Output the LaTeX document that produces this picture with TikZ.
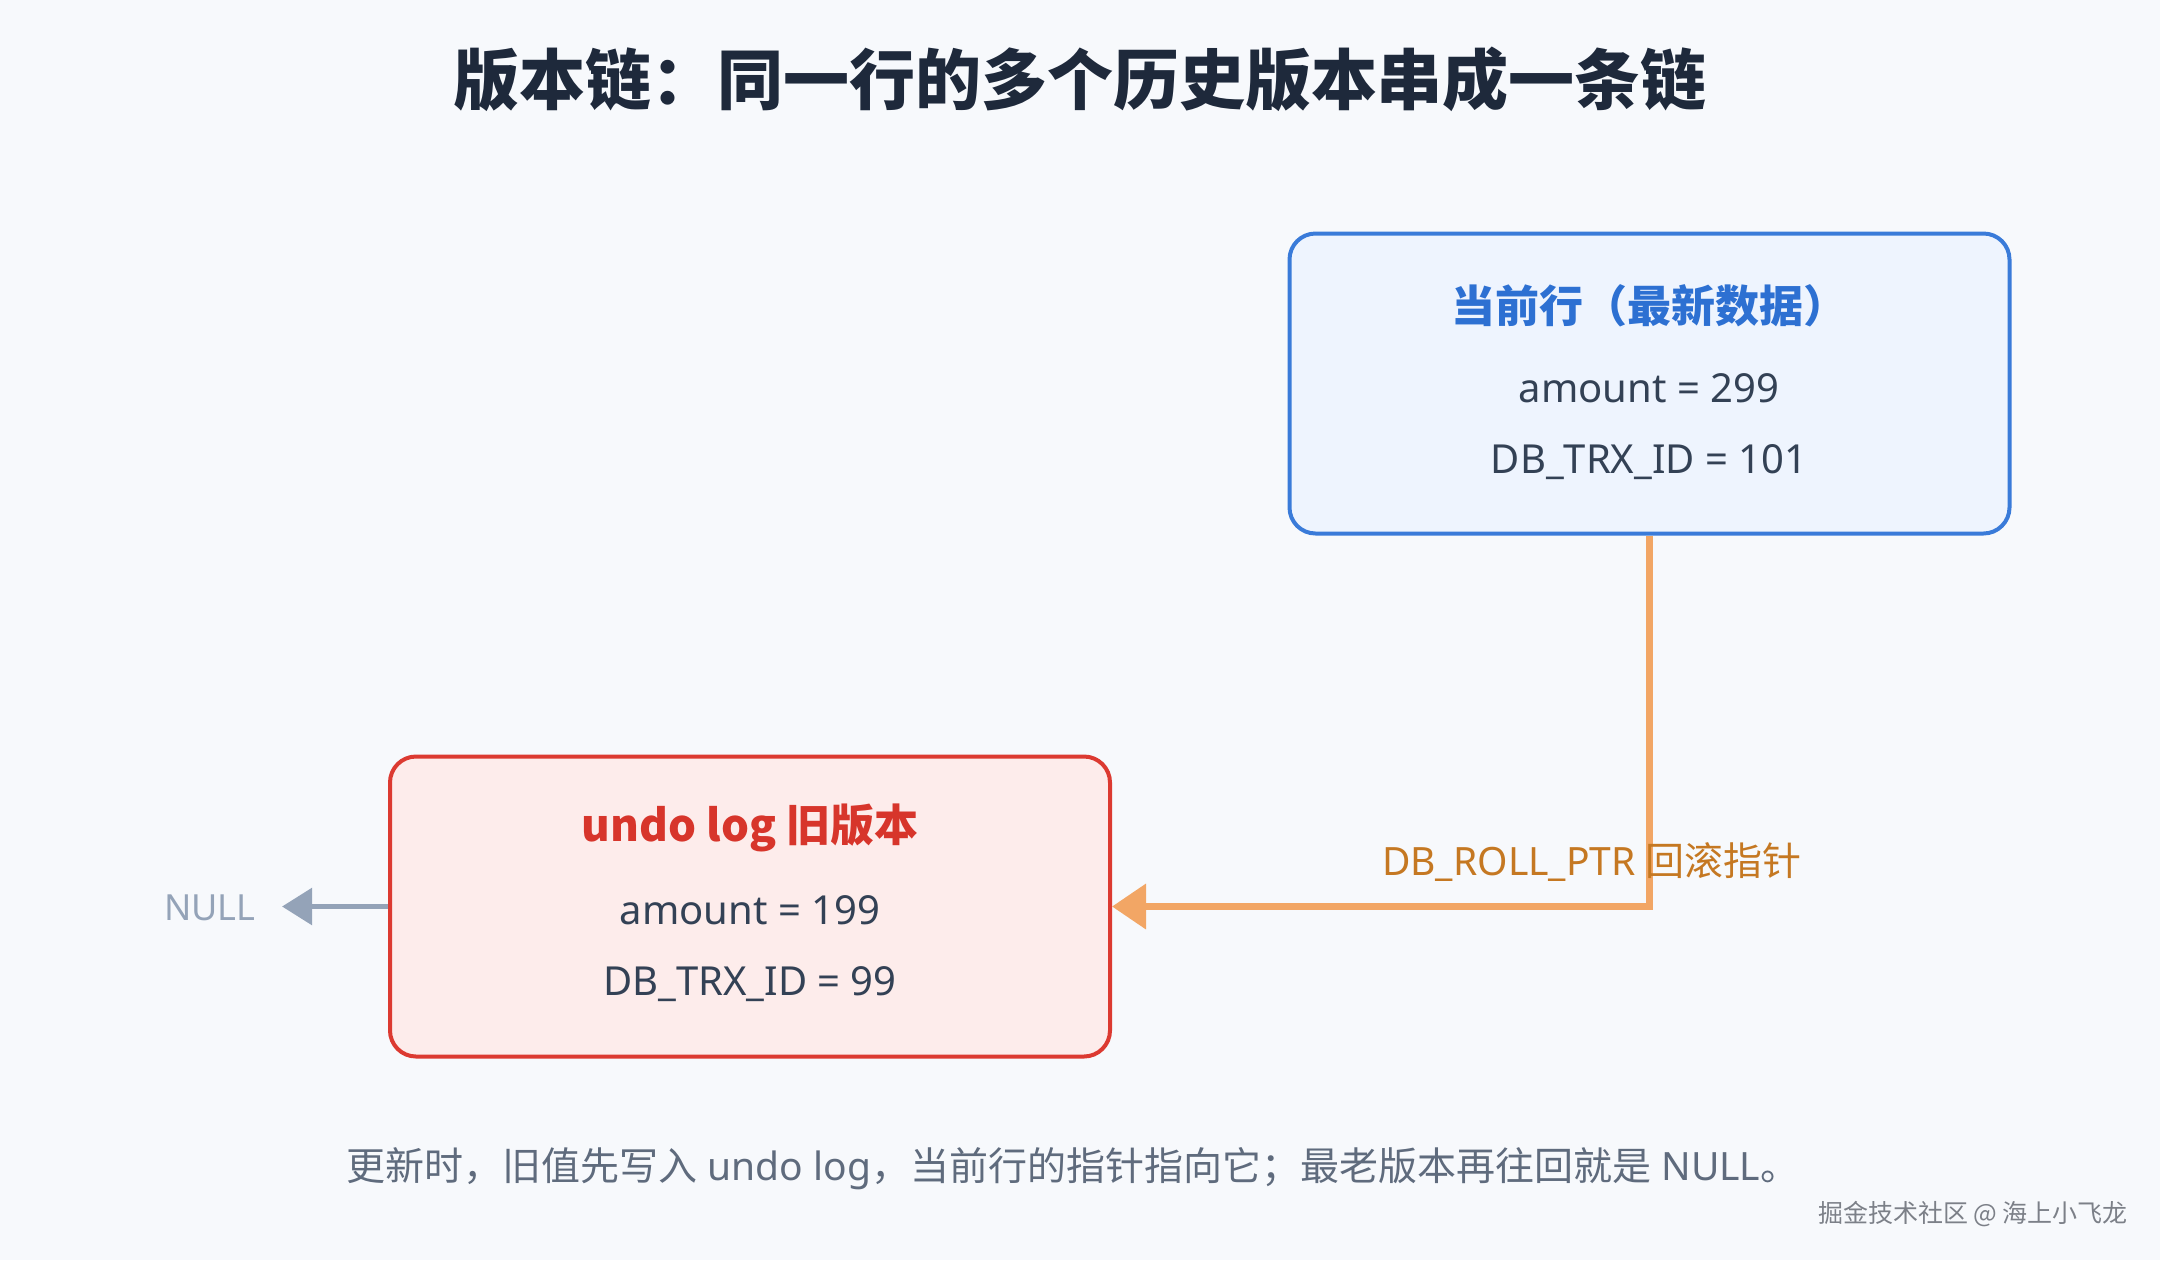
\documentclass[tikz,border=0pt]{standalone}
\usepackage{fontspec}
\setmainfont{Noto Sans}
\newfontfamily\cjk{Noto Sans CJK SC}
\usetikzlibrary{arrows.meta}

\definecolor{bgcol}{HTML}{F7F9FC}
\definecolor{titlecol}{HTML}{1E293B}
\definecolor{textcol}{HTML}{334155}
\definecolor{notecol}{HTML}{5F6B7D}
\definecolor{curdraw}{HTML}{3A7BD9}
\definecolor{curfill}{HTML}{EEF4FE}
\definecolor{curtext}{HTML}{2D70D2}
\definecolor{olddraw}{HTML}{DC3A31}
\definecolor{oldfill}{HTML}{FDECEB}
\definecolor{oldtext}{HTML}{D7352B}
\definecolor{ptrline}{HTML}{F2A665}
\definecolor{ptrtext}{HTML}{C57822}
\definecolor{nullcol}{HTML}{94A3B8}
\definecolor{markcol}{HTML}{7C8088}

\tikzset{
  rowbox/.style={draw, line width=2pt, rounded corners=13pt,
    minimum width=360pt, minimum height=150pt},
  boxtitle/.style={font=\fontsize{22}{26}\selectfont\cjk\bfseries},
  field/.style={text=textcol, font=\fontsize{20}{24}\selectfont},
}

\begin{document}
\begin{tikzpicture}[x=0.5pt, y=-0.5pt]
\fill[bgcol] (0,0) rectangle (2160,1260);
\useasboundingbox (0,0) rectangle (2160,1260);

% title
\node[text=titlecol, font=\fontsize{33}{38}\selectfont\cjk\bfseries] (title) at (1080,79)
  {版本链：同一行的多个历史版本串成一条链};

% current row
\node[rowbox, draw=curdraw, fill=curfill] (cur) at (1649.5,383.5) {};
\node[boxtitle, text=curtext] (curname) at (1649,306) {当前行（最新数据）};
\node[field] (curamt) at (1649,388) {amount = 299};
\node[field] (curtrx) at (1649,462) {DB\_TRX\_ID = 101};

% undo log version
\node[rowbox, draw=olddraw, fill=oldfill] (old) at (750,906.5) {};
\node[boxtitle, text=oldtext] (oldname) at (750,828) {undo log 旧版本};
\node[field] (oldamt) at (750,910) {amount = 199};
\node[field] (oldtrx) at (750,984) {DB\_TRX\_ID = 99};

% roll pointer
\draw[ptrline, line width=3.5pt, -{Triangle[length=17pt,width=22pt]}]
  (cur.south) |- (old.east);
\node[text=ptrtext, font=\fontsize{19.5}{24}\selectfont] (ptr) at (1592,862)
  {DB\_ROLL\_PTR {\cjk 回滚指针}};

% end of chain
\node[text=nullcol, font=\fontsize{18}{22}\selectfont, anchor=east, inner sep=0pt]
  (null) at (256,908) {NULL};
\draw[nullcol, line width=2.8pt, -{Triangle[length=15pt,width=18pt]}, shorten >=13pt]
  (old.west) -- (null.east |- old.west);

% note
\node[text=notecol, font=\fontsize{19.5}{23}\selectfont] (note) at (1073,1169)
  {{\cjk 更新时，旧值先写入} undo log{\cjk ，当前行的指针指向它；最老版本再往回就是} NULL{\cjk 。}};
\node[text=markcol, font=\fontsize{12.5}{15}\selectfont\cjk] (mark) at (1973,1214)
  {掘金技术社区 @ 海上小飞龙};
\end{tikzpicture}
\end{document}
